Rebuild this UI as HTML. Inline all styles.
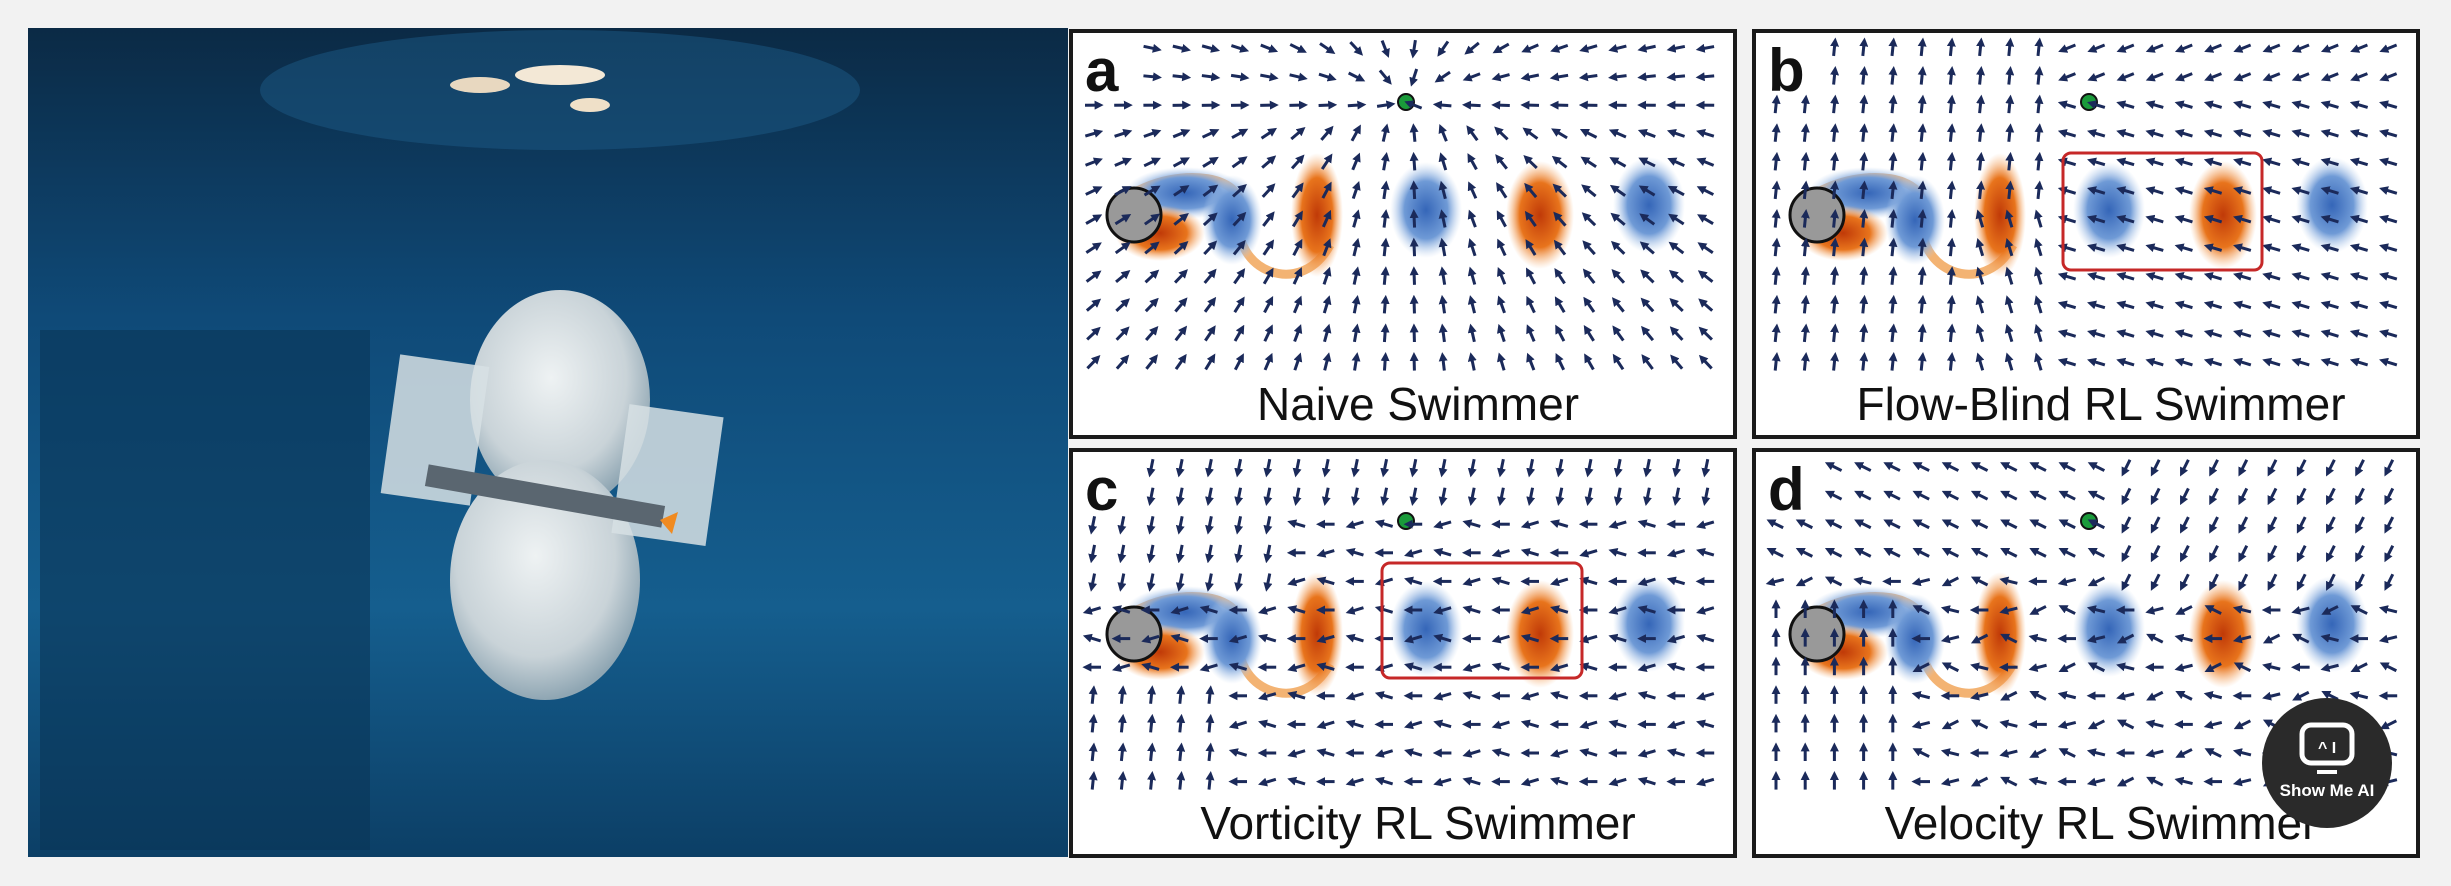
<!DOCTYPE html>
<html><head><meta charset="utf-8"><style>
html,body{margin:0;padding:0;background:#f2f2f2;}
svg{display:block}
</style></head><body>
<svg id="s" width="2451" height="886" viewBox="0 0 2451 886" xmlns="http://www.w3.org/2000/svg">
<defs>
<radialGradient id="or" cx="50%" cy="50%" r="50%"><stop offset="0" stop-color="#c03a08"/><stop offset="0.6" stop-color="#e8741c"/><stop offset="1" stop-color="#f7b070" stop-opacity="0"/></radialGradient>
<radialGradient id="bl" cx="50%" cy="50%" r="50%"><stop offset="0" stop-color="#3566b8"/><stop offset="0.6" stop-color="#6f9ad6"/><stop offset="1" stop-color="#b8d0ee" stop-opacity="0"/></radialGradient>
<linearGradient id="water" x1="0" y1="0" x2="0" y2="1"><stop offset="0" stop-color="#0b2a45"/><stop offset="0.35" stop-color="#0f4a78"/><stop offset="0.7" stop-color="#155e8e"/><stop offset="1" stop-color="#0c3f66"/></linearGradient>
<radialGradient id="robot" cx="45%" cy="40%" r="60%"><stop offset="0" stop-color="#eef2f3"/><stop offset="0.7" stop-color="#c9d3d8"/><stop offset="1" stop-color="#8fa6b3"/></radialGradient>
<marker id="ah" viewBox="0 0 10 10" refX="6" refY="5" markerWidth="3" markerHeight="3" orient="auto"><path d="M0,0 L10,5 L0,10 z" fill="#1b2a5a"/></marker>
</defs>
<rect x="0" y="0" width="2451" height="886" fill="#f2f2f2"/>
<rect x="28" y="28" width="1040" height="829" fill="url(#water)"/>
<ellipse cx="560" cy="90" rx="300" ry="60" fill="#1c5a85" opacity="0.5"/>
<ellipse cx="560" cy="75" rx="45" ry="10" fill="#f3e8d6"/>
<ellipse cx="480" cy="85" rx="30" ry="8" fill="#e8d8c0"/>
<ellipse cx="590" cy="105" rx="20" ry="7" fill="#efe0c8"/>
<rect x="40" y="330" width="330" height="520" fill="#0a3556" opacity="0.6"/>
<ellipse cx="560" cy="400" rx="90" ry="110" fill="url(#robot)"/>
<ellipse cx="545" cy="580" rx="95" ry="120" fill="url(#robot)"/>
<rect x="390" y="360" width="90" height="140" fill="#d7e0e4" opacity="0.85" transform="rotate(8 435 430)"/>
<rect x="620" y="410" width="95" height="130" fill="#d7e0e4" opacity="0.85" transform="rotate(8 667 475)"/>
<rect x="425" y="485" width="240" height="22" fill="#5a6670" transform="rotate(10 545 496)"/>
<path d="M660 520 l18 -8 -6 22 z" fill="#f08a20"/>
<g id="panels"></g>
<circle cx="2327" cy="763" r="65" fill="#2a2a2a"/>
<rect x="2302" y="725" width="50" height="38" rx="9" fill="none" stroke="#fff" stroke-width="5"/>
<text x="2318" y="753" font-family="Liberation Sans, sans-serif" font-size="16" font-weight="bold" fill="#fff">^ I</text>
<rect x="2317" y="770" width="20" height="4" fill="#fff"/>
<text x="2327" y="796" text-anchor="middle" font-family="Liberation Sans, sans-serif" font-size="17" font-weight="bold" fill="#fff">Show Me AI</text>
</svg>
<script>
var NS="http://www.w3.org/2000/svg",G=document.getElementById('panels');
function el(t,a,p){var e=document.createElementNS(NS,t);for(var k in a)e.setAttribute(k,a[k]);(p||G).appendChild(e);return e;}
var P=[
 {x:1071,y:31,l:'a',t:'Naive Swimmer',f:0,box:null},
 {x:1754,y:31,l:'b',t:'Flow-Blind RL Swimmer',f:1,box:[2063,153,199,117]},
 {x:1071,y:450,l:'c',t:'Vorticity RL Swimmer',f:2,box:[1382,563,200,115]},
 {x:1754,y:450,l:'d',t:'Velocity RL Swimmer',f:3,box:null}];
P.forEach(function(p){
 var g=el('g',{});
 el('rect',{x:p.x,y:p.y,width:664,height:406,fill:'#fff',stroke:'#1a1a1a','stroke-width':4},g);
 var ox=p.x-1071,oy=p.y-31;
 var cy=215+oy;
 el('path',{d:'M'+(1130+ox)+' '+(cy-20)+' C '+(1180+ox)+' '+(cy-50)+' '+(1250+ox)+' '+(cy-40)+' '+(1240+ox)+' '+(cy)+' C '+(1230+ox)+' '+(cy+55)+' '+(1300+ox)+' '+(cy+85)+' '+(1330+ox)+' '+(cy+30),fill:'none',stroke:'#f0a050','stroke-width':9,opacity:0.8},g);
 el('ellipse',{cx:1185+ox,cy:cy-22,rx:60,ry:26,fill:'url(#bl)'},g);
 el('ellipse',{cx:1232+ox,cy:cy+5,rx:30,ry:45,fill:'url(#bl)'},g);
 el('ellipse',{cx:1160+ox,cy:cy+18,rx:45,ry:28,fill:'url(#or)'},g);
 el('ellipse',{cx:1317+ox,cy:cy,rx:26,ry:62,fill:'url(#or)'},g);
 el('ellipse',{cx:1426+ox,cy:cy-5,rx:36,ry:48,fill:'url(#bl)'},g);
 el('ellipse',{cx:1540+ox,cy:cy,rx:34,ry:54,fill:'url(#or)'},g);
 el('ellipse',{cx:1649+ox,cy:cy-10,rx:36,ry:48,fill:'url(#bl)'},g);
 el('circle',{cx:1134+ox,cy:cy,r:27,fill:'#999',stroke:'#111','stroke-width':3},g);
 var gx=1406+ox,gy=102+oy;
 el('circle',{cx:gx,cy:gy,r:8,fill:'#1a9a3a',stroke:'#111','stroke-width':2},g);
 for(var r=0;r<12;r++)for(var c=0;c<22;c++){
  if(r<2&&c<2)continue;
  var x=1093+ox+c*29.2,y=48+oy+r*28.6,dx,dy;
  if(p.f==0){dx=gx-x;dy=gy-y; if(y>gy+20){dy=-Math.abs(dy)-60;} }
  else if(p.f==1){ if(c<10){dx=(c>6&&r>5)?-0.3:0.1;dy=-1;} else {dx=-1;dy=(r<2?0.4:-0.3);} }
  else if(p.f==2){ if(r<2||(c<7&&r<5)){dx=-0.2;dy=1;} else if(r>=8&&c<5){dx=0.1;dy=-1;} else {dx=-1;dy=((r+c)%3-1)*0.3;} }
  else { if(c<5&&r>4){dx=0;dy=-1;} else if(r<4&&c<12){dx=-1;dy=-0.5;} else if(c>=12&&r<5){dx=-0.5;dy=1;} else {dx=-1;dy=((r*7+c)%5-2)*0.25;} }
  var n=Math.hypot(dx,dy)||1;dx/=n;dy/=n;
  el('line',{x1:x-dx*8,y1:y-dy*8,x2:x+dx*7,y2:y+dy*7,stroke:'#1b2a5a','stroke-width':3,'marker-end':'url(#ah)'},g);
 }
 if(p.box)el('rect',{x:p.box[0],y:p.box[1],width:p.box[2],height:p.box[3],rx:8,fill:'none',stroke:'#c62828','stroke-width':3},g);
 var lt=el('text',{x:p.x+14,y:p.y+60,'font-family':'Liberation Sans, sans-serif','font-size':60,'font-weight':'bold',fill:'#111'},g);lt.textContent=p.l;
 var tt=el('text',{x:p.x+347,y:p.y+389,'text-anchor':'middle','font-family':'Liberation Sans, sans-serif','font-size':46,fill:'#111'},g);tt.textContent=p.t;
});
</script>
</body></html>
